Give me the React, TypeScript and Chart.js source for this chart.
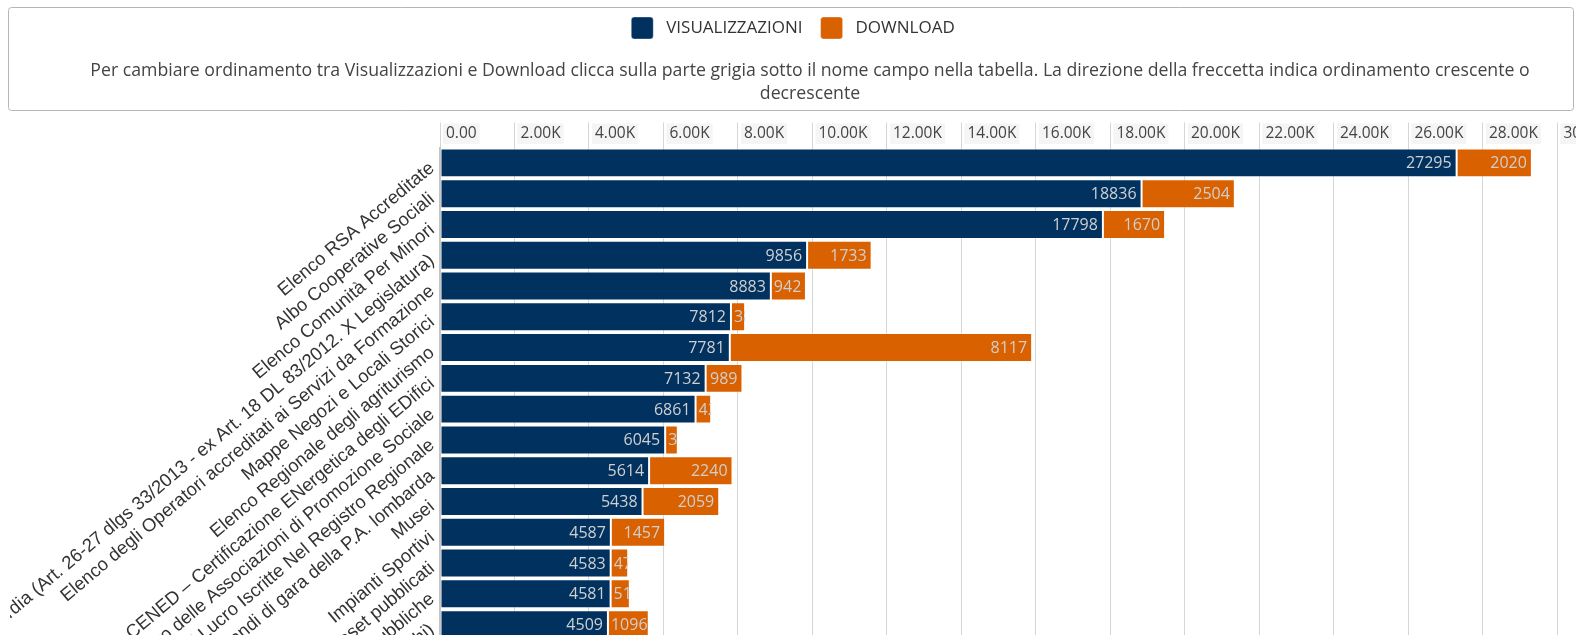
import React, { useEffect, useRef } from "react";
import { Chart, registerables, layouts } from "chart.js";

Chart.register(...registerables);

const categories = [
  "Elenco RSA Accreditate",
  "Albo Cooperative Sociali",
  "Elenco Comunità Per Minori",
  "Sovvenzioni Regione Lombardia (Art. 26-27 dlgs 33/2013 - ex Art. 18 DL 83/2012. X Legislatura)",
  "Elenco degli Operatori accreditati ai Servizi da Formazione",
  "Mappe Negozi e Locali Storici",
  "Elenco Regionale degli agriturismo",
  "Catasto CENED – Certificazione ENergetica degli EDifici",
  "Registro delle Associazioni di Promozione Sociale",
  "Associazioni Senza Scopo di Lucro Iscritte Nel Registro Regionale",
  "Bandi di gara della P.A. lombarda",
  "Musei",
  "Impianti Sportivi",
  "Dataset pubblicati",
  "Biblioteche pubbliche",
  "Strutture ricettive (Alberghi)",
];

const visualizzazioni = [27295, 18836, 17798, 9856, 8883, 7812, 7781, 7132, 6861, 6045, 5614, 5438, 4587, 4583, 4581, 4509];
const download = [2020, 2504, 1670, 1733, 942, 380, 8117, 989, 420, 340, 2240, 2059, 1457, 470, 515, 1096];

const seriesLabels = ["VISUALIZZAZIONI", "DOWNLOAD"];
const noteLines = [
  "Per cambiare ordinamento tra Visualizzazioni e Download clicca sulla parte grigia sotto il nome campo nella tabella. La direzione della freccetta indica ordinamento crescente o",
  "decrescente",
];
const xMax = 30500;
const xStep = 2000;

const BLUE = "#01325F";
const ORANGE = "#DA6100";
const UI_FONT = "'Open Sans', 'DejaVu Sans', sans-serif";
const LABEL_FONT = "'Liberation Sans', Arial, sans-serif";

// Rounded frame around legend + note
const noteFramePlugin = {
  id: "noteFrame",
  beforeDraw(chart: any) {
    const ctx = chart.ctx;
    ctx.save();
    ctx.strokeStyle = "#b5b5b5";
    ctx.lineWidth = 1;
    ctx.beginPath();
    (ctx as any).roundRect(8.5, 7.5, chart.width - 11, 103, 3);
    ctx.stroke();
    ctx.restore();
  },
};

// Note text as a layout box placed between legend and x axis
const NOTE = { size: 17.7, lineHeight: 23, padTop: 10, padBottom: 17.5, shiftX: 17, color: "#444" };
const noteTextPlugin = {
  id: "noteText",
  start(chart: any) {
    const box: any = {
      position: "top",
      weight: 500,
      fullSize: true,
      options: {},
      left: 0,
      top: 0,
      right: 0,
      bottom: 0,
      width: 0,
      height: 0,
      isHorizontal() {
        return true;
      },
      update(maxWidth: number) {
        this.width = maxWidth;
        this.height = NOTE.padTop + noteLines.length * NOTE.lineHeight + NOTE.padBottom;
        return this.height;
      },
      draw() {
        const ctx = chart.ctx;
        ctx.save();
        ctx.font = `normal ${NOTE.size}px ${UI_FONT}`;
        ctx.fillStyle = NOTE.color;
        ctx.textAlign = "center";
        ctx.textBaseline = "middle";
        const cx = (this.left + this.right) / 2 + NOTE.shiftX;
        noteLines.forEach((line, i) => {
          ctx.fillText(line, cx, this.top + NOTE.padTop + NOTE.lineHeight * (i + 0.5));
        });
        ctx.restore();
      },
    };
    layouts.addBox(chart, box);
  },
};

const barLabelPlugin = {
  id: "barLabels",
  afterDatasetsDraw(chart: any) {
    const ctx = chart.ctx;
    chart.data.datasets.forEach((ds: any, di: number) => {
      const meta = chart.getDatasetMeta(di);
      meta.data.forEach((el: any, i: number) => {
        const { x, y, base, height } = el.getProps(["x", "y", "base", "height"], true);
        const left = Math.min(x, base);
        const right = Math.max(x, base);
        const text = String(ds.data[i]);
        ctx.save();
        ctx.beginPath();
        ctx.rect(left, y - height / 2, right - left, height);
        ctx.clip();
        ctx.font = `16px ${UI_FONT}`;
        const w = ctx.measureText(text).width;
        const tx = Math.max(left + 3, right - 5 - w);
        ctx.fillStyle = "#cfcfcf";
        ctx.textAlign = "left";
        ctx.textBaseline = "middle";
        ctx.fillText(text, tx, y + 1);
        ctx.restore();
      });
    });
  },
};

export default function App() {
  const canvasRef = useRef<HTMLCanvasElement | null>(null);

  useEffect(() => {
    if (!canvasRef.current) return;
    const chart = new Chart(canvasRef.current, {
      type: "bar",
      data: {
        labels: categories,
        datasets: [
          {
            label: seriesLabels[0],
            data: visualizzazioni,
            backgroundColor: BLUE,
            borderColor: "rgba(255,255,255,0.35)",
            borderWidth: 1,
            borderSkipped: false,
            barPercentage: 0.94,
            categoryPercentage: 1,
          },
          {
            label: seriesLabels[1],
            data: download,
            backgroundColor: ORANGE,
            borderColor: "rgba(255,255,255,0.35)",
            borderWidth: 1,
            borderSkipped: false,
            barPercentage: 0.94,
            categoryPercentage: 1,
          },
        ],
      },
      options: {
        indexAxis: "y",
        responsive: false,
        animation: false,
        devicePixelRatio: 1,
        layout: { padding: { top: -1, left: 10, right: 0, bottom: 0 } },
        plugins: {
          legend: {
            position: "top",
            weight: 1000,
            labels: {
              boxWidth: 22,
              boxHeight: 22,
              padding: 18,
              useBorderRadius: true,
              borderRadius: 3,
              color: "#333",
              font: { family: UI_FONT, size: 17 },
              generateLabels: (chart: any) =>
                (Chart.defaults.plugins.legend.labels.generateLabels as any)(chart).map((item: any) => ({
                  ...item,
                  text: " " + item.text,
                })),
            },
          },
          tooltip: { enabled: false },
        },
        scales: {
          x: {
            position: "top",
            stacked: true,
            beginAtZero: true,
            max: xMax,
            z: 1,
            grid: {
              color: "rgba(200,200,200,0.75)",
              tickColor: "rgba(200,200,200,0.75)",
              lineWidth: 1,
              drawTicks: true,
              tickLength: 25,
            },
            border: { display: false },
            ticks: {
              stepSize: xStep,
              includeBounds: false,
              autoSkip: false,
              maxRotation: 0,
              align: "start",
              labelOffset: 6,
              padding: -20.5,
              color: "#444",
              font: { family: UI_FONT, size: 15.5 },
              showLabelBackdrop: true,
              backdropColor: "#f5f5f5",
              backdropPadding: { left: 3, right: 3, top: 1, bottom: 1 },
              callback: (v: any) => (v === 0 ? "0.00" : (Number(v) / 1000).toFixed(2) + "K"),
            },
            afterFit: (s: any) => {
              s.height = 25;
              s.paddingLeft = 0;
              s.paddingRight = 0;
            },
          },
          y: {
            stacked: true,
            z: 1,
            grid: { display: false, drawTicks: false },
            border: { display: true, color: "#c4c4c4", width: 2 },
            ticks: {
              autoSkip: false,
              minRotation: 40,
              maxRotation: 40,
              padding: 8,
              labelOffset: 3,
              color: "#333",
              font: { family: LABEL_FONT, size: 18.5 },
            },
            afterFit: (s: any) => {
              s.width = 430;
              s.paddingTop = 0;
              s.paddingBottom = 0;
            },
          },
        },
      } as any,
      plugins: [noteFramePlugin, noteTextPlugin, barLabelPlugin],
    });
    return () => chart.destroy();
  }, []);

  return (
    <div
      style={{
        position: "fixed",
        left: 0,
        top: 0,
        width: "1576px",
        height: "635px",
        overflow: "hidden",
        background: "#fff",
      }}
    >
      <canvas ref={canvasRef} width={1576} height={640} style={{ display: "block" }} />
    </div>
  );
}
